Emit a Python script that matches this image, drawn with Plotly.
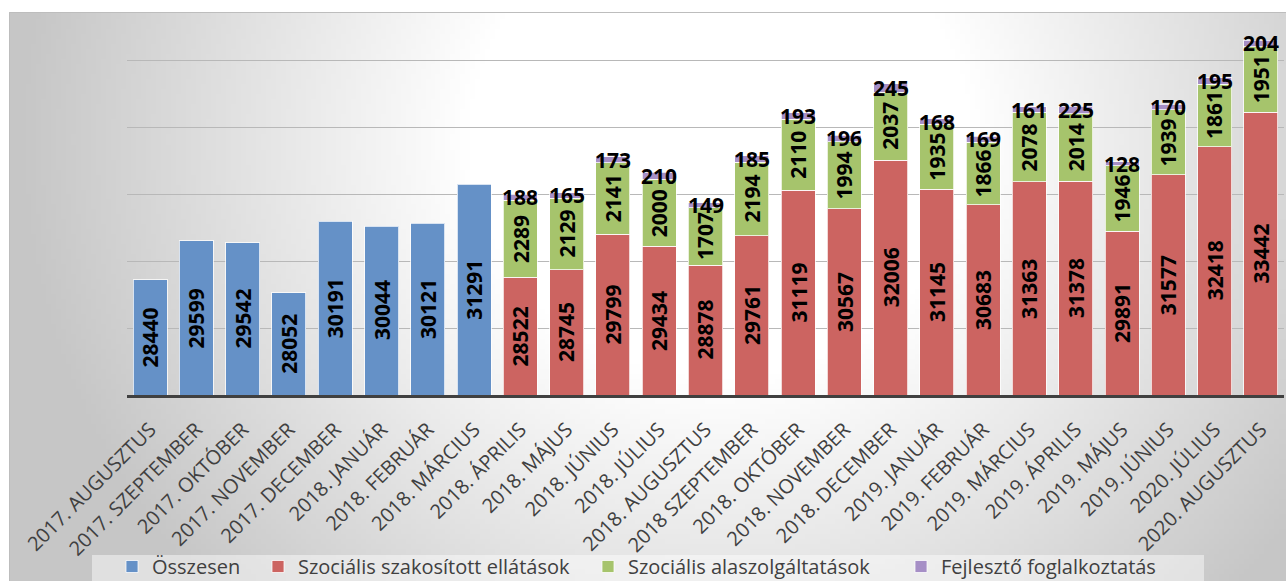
import zlib, struct, base64, math
import plotly.graph_objects as go

# ---------------- data ----------------
categories = [
    "2017. AUGUSZTUS", "2017. SZEPTEMBER", "2017. OKTÓBER", "2017. NOVEMBER",
    "2017. DECEMBER", "2018. JANUÁR", "2018. FEBRUÁR", "2018. MÁRCIUS",
    "2018. ÁPRILIS", "2018. MÁJUS", "2018. JÚNIUS", "2018. JÚLIUS",
    "2018. AUGUSZTUS", "2018 SZEPTEMBER", "2018. OKTÓBER", "2018. NOVEMBER",
    "2018. DECEMBER", "2019. JANUÁR", "2019. FEBRUÁR", "2019. MÁRCIUS",
    "2019. ÁPRILIS", "2019. MÁJUS", "2019. JÚNIUS", "2020. JÚLIUS",
    "2020. AUGUSZTUS",
]
osszesen = [28440, 29599, 29542, 28052, 30191, 30044, 30121, 31291] + [None] * 17
szakositott = [None] * 8 + [28522, 28745, 29799, 29434, 28878, 29761, 31119, 30567,
                            32006, 31145, 30683, 31363, 31378, 29891, 31577, 32418, 33442]
alapszolg = [None] * 8 + [2289, 2129, 2141, 2000, 1707, 2194, 2110, 1994,
                          2037, 1935, 1866, 2078, 2014, 1946, 1939, 1861, 1951]
fejleszto = [None] * 8 + [188, 165, 173, 210, 149, 185, 193, 196,
                          245, 168, 169, 161, 225, 128, 170, 195, 204]
series_names = ["Összesen", "Szociális szakosított ellátások",
                "Szociális alaszolgáltatások", "Fejlesztő foglalkoztatás"]

# ---------------- layout geometry ----------------
W, H = 1286, 581
ML, MR, MT, MB = 127, 2, 20, 186
PW, PH = W - ML - MR, H - MT - MB
PB = H - MB
AXIS_MIN = 25000
PX_PER_UNIT = 0.0335
AXIS_MAX = AXIS_MIN + PH / PX_PER_UNIT


def pxx(px):
    return (px - ML) / PW


def pxy(py):
    return (PB - py) / PH


colors = ["#6591c7", "#cc6461", "#a6c46c", "#a68fc6"]
FONT = "Open Sans"


# ---------------- background gradient image ----------------
def make_png(w, h, func):
    raw = bytearray()
    for j in range(h):
        raw.append(0)
        for i in range(w):
            g = func(i, j)
            raw += bytes([g, g, g])

    def chunk(t, d):
        c = struct.pack(">I", len(d)) + t + d
        return c + struct.pack(">I", zlib.crc32(t + d) & 0xffffffff)

    png = (b"\x89PNG\r\n\x1a\n"
           + chunk(b"IHDR", struct.pack(">IIBBBBB", w, h, 8, 2, 0, 0, 0))
           + chunk(b"IDAT", zlib.compress(bytes(raw), 9))
           + chunk(b"IEND", b""))
    return "data:image/png;base64," + base64.b64encode(png).decode()


GX0, GY0, GX1, GY1 = 9, 12, 1286, 581
GW, GH = 256, 114


def grad(i, j):
    X = GX0 + (i + 0.5) * (GX1 - GX0) / GW
    Y = GY0 + (j + 0.5) * (GY1 - GY0) / GH
    d = math.hypot(X - 720, (Y - 140) * 1.05)
    t = min(1.0, max(0.0, (d - 250) / 450))
    return int(round(255 - 57 * t))


bg_src = make_png(GW, GH, grad)

# ---------------- figure ----------------
fig = go.Figure()
series = [osszesen, szakositott, alapszolg, fejleszto]
legend_ids = ["legend", "legend2", "legend3", "legend4"]
for name, vals, col, lg in zip(series_names, series, colors, legend_ids):
    fig.add_trace(go.Bar(
        x=categories, y=vals, name=name, legend=lg,
        marker=dict(color=col, line=dict(color="rgba(255,255,255,0.75)", width=1)),
        hoverinfo="skip",
    ))

annotations = []
lab_font = dict(family=FONT, size=21, color="black", weight="bold")
for c, v in zip(categories, osszesen):
    if v is not None:
        annotations.append(dict(x=c, y=(AXIS_MIN + v) / 2, text=str(v), textangle=-90,
                                showarrow=False, font=lab_font))
for c, r, g, p in zip(categories, szakositott, alapszolg, fejleszto):
    if r is None:
        continue
    annotations.append(dict(x=c, y=(AXIS_MIN + r) / 2, text=str(r), textangle=-90,
                            showarrow=False, font=lab_font))
    annotations.append(dict(x=c, y=r + g / 2, text=str(g), textangle=-90,
                            showarrow=False, font=lab_font))
    annotations.append(dict(x=c, y=r + g + p / 2, text=str(p), textangle=0,
                            showarrow=False, font=lab_font))

shapes = [
    dict(type="rect", xref="paper", yref="paper",
         x0=pxx(9.5), x1=pxx(1300), y0=pxy(600), y1=pxy(12.5),
         line=dict(color="#bdbdbd", width=1), fillcolor="rgba(0,0,0,0)", layer="below"),
    dict(type="rect", xref="paper", yref="paper",
         x0=pxx(92), x1=pxx(1204), y0=pxy(600), y1=pxy(555),
         line=dict(width=0), fillcolor="rgba(255,255,255,0.45)", layer="below"),
]

legend_font = dict(family=FONT, size=20, color="#404040")
legend_x = [112, 258, 588, 901]
LEG_TOP = 547
legends = {}
for lg, lx in zip(legend_ids, legend_x):
    legends[lg] = dict(orientation="h", x=pxx(lx), y=pxy(LEG_TOP), xanchor="left",
                       yanchor="top", bgcolor="rgba(0,0,0,0)", borderwidth=0,
                       font=legend_font)

fig.update_layout(
    template="none",
    width=W, height=H,
    margin=dict(l=ML, r=MR, t=MT, b=MB, pad=0, autoexpand=False),
    paper_bgcolor="white",
    plot_bgcolor="rgba(0,0,0,0)",
    barmode="stack",
    bargap=0.265,
    showlegend=True,
    annotations=annotations,
    shapes=shapes,
    images=[dict(source=bg_src, xref="paper", yref="paper",
                 x=pxx(GX0), y=pxy(GY0), sizex=(GX1 - GX0) / PW, sizey=(GY1 - GY0) / PH,
                 xanchor="left", yanchor="top", sizing="stretch", layer="below")],
    xaxis=dict(type="category", tickangle=-45, automargin=False,
               tickfont=dict(family=FONT, size=20, color="#404040"),
               ticklabelstandoff=12,
               showline=True, linecolor="#404040", linewidth=3, ticks="",
               showgrid=False, zeroline=False),
    yaxis=dict(range=[AXIS_MIN, AXIS_MAX], tick0=AXIS_MIN, dtick=2000, automargin=False,
               showticklabels=False, showgrid=True, gridcolor="#b8b8b8", gridwidth=1.3,
               zeroline=False, showline=False, ticks=""),
    **legends,
)

fig.write_html("out.html", config={"displayModeBar": False},
               post_script="document.body.style.margin='0';")
